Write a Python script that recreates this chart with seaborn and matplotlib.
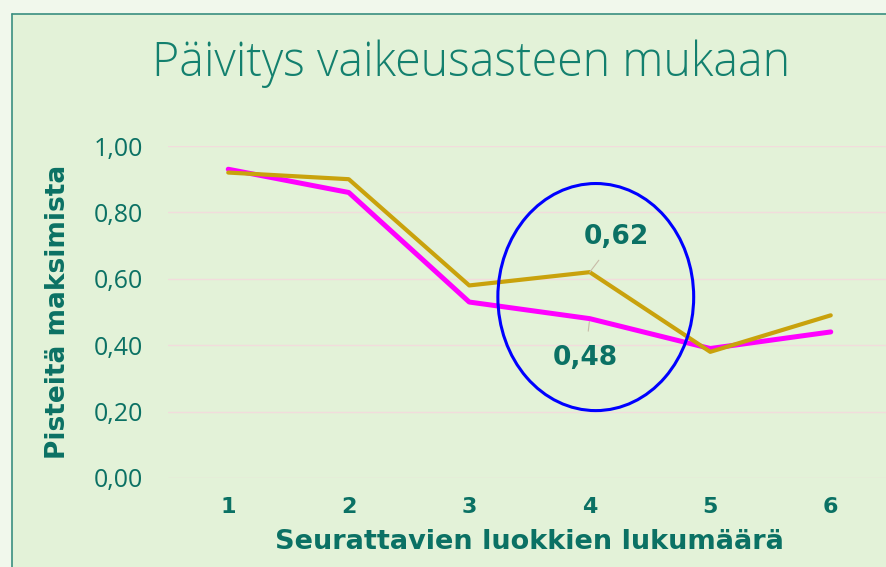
import matplotlib
matplotlib.use("Agg")
import matplotlib.pyplot as plt
from matplotlib.patches import Ellipse, Rectangle
from matplotlib.ticker import FuncFormatter
import pandas as pd
import seaborn as sns

# ---- Data ----
luokat = [1, 2, 3, 4, 5, 6]
sarja_kulta = [0.92, 0.90, 0.58, 0.62, 0.38, 0.49]
sarja_magenta = [0.93, 0.86, 0.53, 0.48, 0.39, 0.44]
y_ticks = [0.0, 0.2, 0.4, 0.6, 0.8, 1.0]

TEAL = "#0b7164"
BG = "#e3f2d8"

df = pd.DataFrame({
    "luokat": luokat * 2,
    "pisteet": sarja_kulta + sarja_magenta,
    "sarja": ["kulta"] * 6 + ["magenta"] * 6,
})

sns.set_style("white")
plt.rcParams["font.family"] = ["DejaVu Sans"]

fig = plt.figure(figsize=(8.86, 5.67), dpi=100)
fig.patch.set_facecolor(BG)

# lighter strip outside the chart frame (left and top)
fig.add_artist(Rectangle((0, 0), 12 / 886, 1, transform=fig.transFigure,
                         facecolor="#f1f8ec", edgecolor="none", zorder=0))
fig.add_artist(Rectangle((0, 1 - 14 / 567), 1, 14 / 567, transform=fig.transFigure,
                         facecolor="#f1f8ec", edgecolor="none", zorder=0))
fig.add_artist(plt.Line2D([12 / 886, 12 / 886], [0, 1 - 14 / 567], transform=fig.transFigure,
                          color="#3a8f80", lw=1.2))
fig.add_artist(plt.Line2D([12 / 886, 1], [1 - 14 / 567, 1 - 14 / 567], transform=fig.transFigure,
                          color="#3a8f80", lw=1.2))

ax = fig.add_axes([168 / 886, 89 / 567, 723 / 886, 332 / 567])
ax.set_facecolor(BG)

sns.lineplot(data=df, x="luokat", y="pisteet", hue="sarja",
             palette={"kulta": "#c9a20c", "magenta": "#ff00ff"},
             legend=False, ax=ax)
for line, lw in zip(ax.get_lines(), [3.0, 3.6]):
    line.set_linewidth(lw)
# magenta under gold
ax.get_lines()[1].set_zorder(2)
ax.get_lines()[0].set_zorder(3)

ax.set_xlim(0.5, 6.5)
ax.set_ylim(0, 1.0)
ax.set_yticks(y_ticks)
ax.yaxis.set_major_formatter(FuncFormatter(lambda v, p: f"{v:.2f}".replace(".", ",")))
ax.set_xticks(luokat)
ax.grid(axis="y", color="#f2dcdc", lw=1)
ax.set_axisbelow(True)
for s in ax.spines.values():
    s.set_visible(False)
ax.tick_params(axis="y", length=0, pad=18, labelsize=18, labelcolor=TEAL)
ax.tick_params(axis="x", length=0, pad=14, labelsize=16, labelcolor=TEAL)
for t in ax.get_xticklabels():
    t.set_fontweight("bold")
for t in ax.get_yticklabels():
    t.set_family(["Open Sans", "DejaVu Sans"])
    t.set_fontweight("normal")

ax.set_xlabel("Seurattavien luokkien lukumäärä", fontsize=19.5, fontweight="bold",
              color=TEAL, labelpad=8)
ax.set_ylabel("Pisteitä maksimista", fontsize=19, fontweight="bold",
              color=TEAL, labelpad=16)

fig.text(471 / 886, 1 - 64 / 567, "Päivitys vaikeusasteen mukaan", ha="center", va="center",
         fontsize=33.5, color="#13806e", family=["Open Sans", "DejaVu Sans"], fontweight="light")

# data labels with leader lines
ax.annotate("0,62", xy=(luokat[3], sarja_kulta[3]), xytext=(4.22, 0.725),
            ha="center", va="center", fontsize=19, fontweight="bold", color=TEAL,
            arrowprops=dict(arrowstyle="-", color="#c8bba8", lw=0.8, shrinkB=0, shrinkA=6))
ax.annotate("0,48", xy=(luokat[3], sarja_magenta[3]), xytext=(3.96, 0.36),
            ha="center", va="center", fontsize=19, fontweight="bold", color=TEAL,
            arrowprops=dict(arrowstyle="-", color="#c8bba8", lw=0.8, shrinkB=2, shrinkA=8))

ax.add_patch(Ellipse((4.05, 0.545), 1.625, 0.684, fill=False, edgecolor="#0000ff",
                     lw=2.2, zorder=5, clip_on=False))

fig.savefig("out.png", dpi=100, facecolor=fig.get_facecolor())
